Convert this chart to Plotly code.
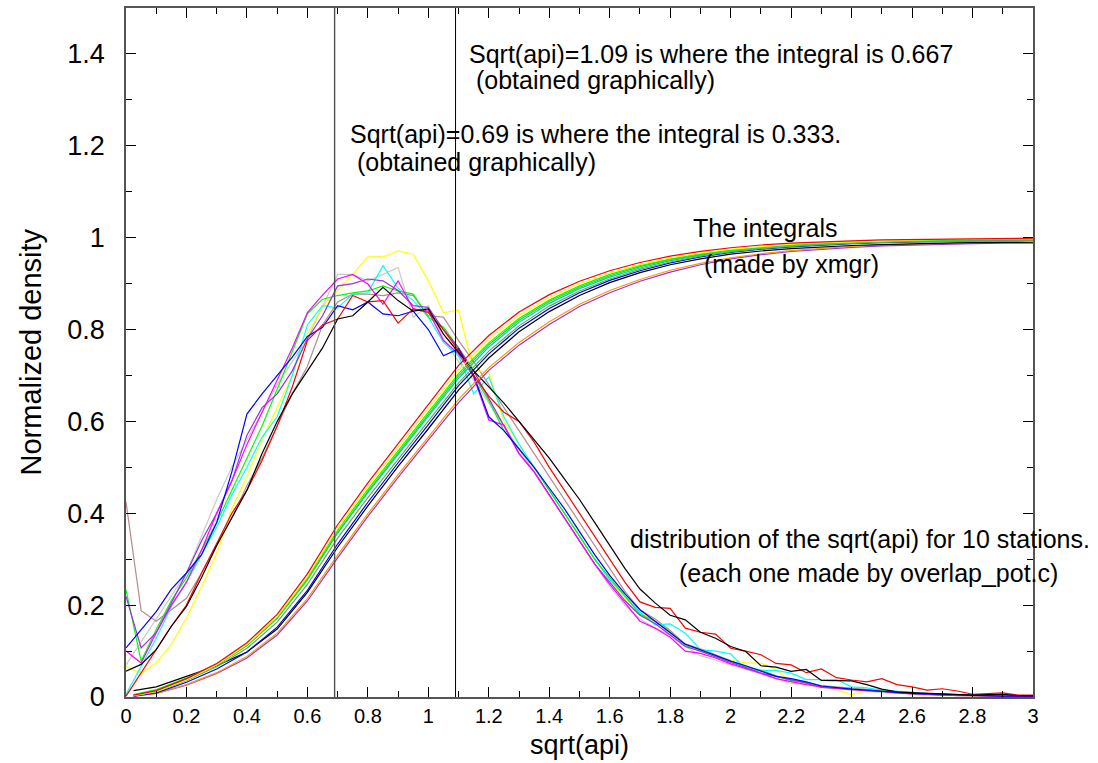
import plotly.graph_objects as go

# sqrt(api) bins shared by all density curves (0 to 3, step 0.05)
x_density = [round(0.05 * i, 2) for i in range(61)]
# abscissae of the integral curves
x_integral = [0.025] + [round(0.1 * i, 1) for i in range(1, 31)]

# normalized density of sqrt(api), one list per station
dens_black = [0.056, 0.071, 0.103, 0.154, 0.197, 0.26, 0.33, 0.39, 0.45, 0.53,
              0.60, 0.66, 0.71, 0.76, 0.823, 0.83, 0.86, 0.892, 0.863, 0.84,
              0.845, 0.79, 0.75, 0.71, 0.675, 0.64, 0.60, 0.56, 0.52, 0.475,
              0.43, 0.38, 0.33, 0.28, 0.235, 0.205, 0.178, 0.168, 0.141, 0.128,
              0.11, 0.099, 0.068, 0.065, 0.056, 0.06, 0.036, 0.036, 0.035, 0.027,
              0.017, 0.011, 0.009, 0.008, 0.007, 0.005, 0.004, 0.005, 0.006, 0.003, 0.003]
dens_red = [0.002, 0.053, 0.103, 0.154, 0.20, 0.27, 0.334, 0.40, 0.45, 0.515,
            0.59, 0.675, 0.776, 0.81, 0.823, 0.874, 0.86, 0.863, 0.814, 0.845,
            0.837, 0.80, 0.754, 0.70, 0.655, 0.62, 0.60, 0.555, 0.50, 0.45,
            0.40, 0.35, 0.30, 0.25, 0.207, 0.195, 0.193, 0.15, 0.141, 0.137,
            0.106, 0.10, 0.092, 0.073, 0.07, 0.053, 0.061, 0.042, 0.037, 0.033,
            0.04, 0.027, 0.022, 0.015, 0.018, 0.013, 0.006, 0.007, 0.009, 0.004, 0.004]
dens_green = [0.233, 0.078, 0.147, 0.21, 0.26, 0.32, 0.38, 0.45, 0.52, 0.59,
              0.67, 0.75, 0.834, 0.866, 0.874, 0.88, 0.884, 0.895, 0.884, 0.877,
              0.827, 0.805, 0.76, 0.70, 0.645, 0.58, 0.54, 0.50, 0.45, 0.40,
              0.35, 0.30, 0.26, 0.22, 0.18, 0.165, 0.142, 0.112, 0.103, 0.09,
              0.078, 0.066, 0.058, 0.046, 0.036, 0.032, 0.024, 0.02, 0.017, 0.016,
              0.013, 0.01, 0.008, 0.006, 0.004, 0.004, 0.003, 0.002, 0.002, 0.002, 0.001]
dens_blue = [0.107, 0.147, 0.186, 0.235, 0.27, 0.31, 0.38, 0.49, 0.616, 0.66,
             0.70, 0.74, 0.785, 0.805, 0.852, 0.843, 0.86, 0.834, 0.83, 0.84,
             0.80, 0.743, 0.758, 0.70, 0.61, 0.58, 0.54, 0.50, 0.455, 0.41,
             0.36, 0.31, 0.265, 0.225, 0.19, 0.165, 0.142, 0.115, 0.103, 0.09,
             0.078, 0.068, 0.056, 0.045, 0.04, 0.033, 0.024, 0.02, 0.017, 0.015,
             0.012, 0.01, 0.008, 0.007, 0.005, 0.004, 0.003, 0.003, 0.002, 0.002, 0.002]
dens_yellow = [0.067, 0.051, 0.074, 0.114, 0.172, 0.24, 0.313, 0.41, 0.48, 0.56,
               0.63, 0.70, 0.79, 0.85, 0.885, 0.92, 0.958, 0.958, 0.971, 0.964,
               0.906, 0.837, 0.842, 0.711, 0.707, 0.60, 0.55, 0.50, 0.45, 0.40,
               0.35, 0.30, 0.255, 0.215, 0.185, 0.165, 0.14, 0.115, 0.10, 0.09,
               0.08, 0.074, 0.074, 0.06, 0.032, 0.028, 0.022, 0.016, 0.005, 0.014,
               0.012, 0.009, 0.008, 0.005, 0.004, 0.003, 0.002, 0.002, 0.002, 0.001, 0.001]
dens_brown = [0.425, 0.188, 0.165, 0.19, 0.215, 0.27, 0.33, 0.39, 0.46, 0.52,
              0.59, 0.66, 0.72, 0.81, 0.86, 0.877, 0.877, 0.874, 0.88, 0.874,
              0.83, 0.827, 0.776, 0.73, 0.68, 0.63, 0.58, 0.53, 0.48, 0.43,
              0.38, 0.33, 0.28, 0.23, 0.19, 0.17, 0.145, 0.115, 0.105, 0.092,
              0.08, 0.066, 0.056, 0.046, 0.036, 0.032, 0.025, 0.022, 0.019, 0.016,
              0.013, 0.011, 0.009, 0.007, 0.005, 0.004, 0.003, 0.003, 0.002, 0.002, 0.001]
dens_grey = [0.07, 0.12, 0.17, 0.22, 0.27, 0.35, 0.43, 0.50, 0.56, 0.62,
             0.68, 0.73, 0.78, 0.85, 0.92, 0.92, 0.906, 0.92, 0.935, 0.827,
             0.852, 0.78, 0.73, 0.69, 0.64, 0.59, 0.54, 0.49, 0.44, 0.39,
             0.34, 0.29, 0.24, 0.20, 0.17, 0.15, 0.135, 0.11, 0.09, 0.08,
             0.07, 0.06, 0.05, 0.04, 0.03, 0.027, 0.022, 0.018, 0.015, 0.012,
             0.01, 0.008, 0.006, 0.005, 0.004, 0.003, 0.003, 0.002, 0.002, 0.001, 0.001]
dens_violet = [0.219, 0.107, 0.14, 0.204, 0.27, 0.34, 0.40, 0.47, 0.57, 0.63,
               0.66, 0.71, 0.78, 0.83, 0.895, 0.90, 0.91, 0.906, 0.885, 0.852,
               0.848, 0.80, 0.76, 0.71, 0.65, 0.59, 0.53, 0.49, 0.44, 0.39,
               0.34, 0.29, 0.25, 0.21, 0.178, 0.16, 0.135, 0.11, 0.10, 0.087,
               0.075, 0.064, 0.052, 0.045, 0.038, 0.03, 0.021, 0.019, 0.017, 0.014,
               0.012, 0.009, 0.007, 0.006, 0.004, 0.004, 0.003, 0.002, 0.002, 0.002, 0.001]
dens_cyan = [0.006, 0.067, 0.128, 0.197, 0.25, 0.31, 0.37, 0.44, 0.50, 0.566,
             0.61, 0.70, 0.81, 0.852, 0.847, 0.877, 0.88, 0.939, 0.89, 0.863,
             0.827, 0.772, 0.743, 0.66, 0.697, 0.61, 0.55, 0.50, 0.45, 0.40,
             0.35, 0.30, 0.255, 0.22, 0.185, 0.157, 0.159, 0.139, 0.103, 0.10,
             0.094, 0.06, 0.058, 0.058, 0.052, 0.038, 0.038, 0.038, 0.022, 0.02,
             0.015, 0.012, 0.01, 0.008, 0.006, 0.005, 0.005, 0.004, 0.003, 0.003, 0.003]
dens_magenta = [0.10, 0.074, 0.14, 0.20, 0.25, 0.32, 0.40, 0.47, 0.55, 0.62,
                0.69, 0.76, 0.837, 0.875, 0.91, 0.92, 0.899, 0.855, 0.906, 0.845,
                0.84, 0.776, 0.747, 0.697, 0.603, 0.592, 0.53, 0.49, 0.44, 0.39,
                0.34, 0.29, 0.245, 0.205, 0.165, 0.15, 0.13, 0.10, 0.095, 0.085,
                0.072, 0.062, 0.052, 0.04, 0.033, 0.027, 0.022, 0.019, 0.016, 0.014,
                0.012, 0.009, 0.007, 0.006, 0.004, 0.003, 0.003, 0.002, 0.002, 0.001, 0.001]

# running integrals of the densities
int_red = [0.004, 0.014, 0.040, 0.073, 0.118, 0.180, 0.268, 0.375, 0.466, 0.552, 0.636,
           0.722, 0.787, 0.838, 0.876, 0.905, 0.928, 0.946, 0.960, 0.970, 0.978,
           0.984, 0.988, 0.991, 0.993, 0.995, 0.996, 0.997, 0.998, 0.999, 0.999]
int_yellow = [0.003, 0.012, 0.037, 0.070, 0.114, 0.175, 0.262, 0.368, 0.458, 0.543, 0.627,
              0.712, 0.778, 0.830, 0.869, 0.899, 0.923, 0.942, 0.956, 0.967, 0.975,
              0.981, 0.986, 0.989, 0.991, 0.993, 0.995, 0.996, 0.997, 0.997, 0.998]
int_green = [0.005, 0.016, 0.041, 0.072, 0.114, 0.174, 0.259, 0.363, 0.452, 0.536, 0.619,
             0.704, 0.771, 0.824, 0.864, 0.895, 0.920, 0.939, 0.954, 0.965, 0.973,
             0.980, 0.985, 0.988, 0.990, 0.992, 0.994, 0.995, 0.996, 0.996, 0.997]
int_lime = [0.004, 0.014, 0.039, 0.070, 0.112, 0.171, 0.255, 0.358, 0.447, 0.531, 0.614,
            0.699, 0.767, 0.820, 0.861, 0.892, 0.917, 0.937, 0.952, 0.963, 0.972,
            0.979, 0.984, 0.987, 0.989, 0.991, 0.993, 0.994, 0.995, 0.996, 0.996]
int_cyan = [0.003, 0.011, 0.036, 0.069, 0.112, 0.172, 0.256, 0.357, 0.445, 0.528, 0.610,
            0.694, 0.762, 0.816, 0.857, 0.889, 0.914, 0.934, 0.950, 0.962, 0.971,
            0.978, 0.983, 0.986, 0.989, 0.991, 0.993, 0.994, 0.995, 0.995, 0.996]
int_olive = [0.003, 0.012, 0.036, 0.066, 0.106, 0.163, 0.245, 0.346, 0.434, 0.518, 0.600,
             0.684, 0.753, 0.808, 0.851, 0.884, 0.910, 0.931, 0.947, 0.960, 0.969,
             0.976, 0.981, 0.985, 0.988, 0.990, 0.991, 0.992, 0.993, 0.994, 0.994]
int_blue = [0.002, 0.009, 0.032, 0.061, 0.098, 0.152, 0.232, 0.333, 0.424, 0.510, 0.593,
            0.678, 0.747, 0.803, 0.846, 0.880, 0.907, 0.928, 0.945, 0.958, 0.968,
            0.975, 0.980, 0.984, 0.987, 0.989, 0.991, 0.992, 0.993, 0.994, 0.994]
int_black = [0.014, 0.022, 0.045, 0.068, 0.098, 0.148, 0.228, 0.326, 0.416, 0.502, 0.584,
             0.668, 0.738, 0.795, 0.839, 0.874, 0.902, 0.924, 0.941, 0.954, 0.964,
             0.971, 0.976, 0.980, 0.983, 0.985, 0.987, 0.988, 0.989, 0.990, 0.990]
int_orange = [0.002, 0.008, 0.027, 0.053, 0.088, 0.139, 0.214, 0.309, 0.399, 0.484, 0.566,
              0.648, 0.717, 0.772, 0.817, 0.855, 0.885, 0.909, 0.929, 0.944, 0.956,
              0.965, 0.972, 0.977, 0.981, 0.984, 0.986, 0.988, 0.989, 0.990, 0.990]
int_violet = [0.002, 0.008, 0.026, 0.051, 0.085, 0.135, 0.209, 0.303, 0.393, 0.478, 0.560,
              0.641, 0.711, 0.766, 0.811, 0.850, 0.880, 0.905, 0.925, 0.941, 0.954,
              0.963, 0.970, 0.975, 0.979, 0.982, 0.984, 0.986, 0.987, 0.988, 0.988]

# sqrt(api) values where the integral reaches 1/3 and 2/3
x_third = 0.69
x_two_thirds = 1.09

densities = [
    (dens_grey, "#c8c8c8"), (dens_brown, "#b48c8c"), (dens_yellow, "#ffff00"),
    (dens_cyan, "#00ffff"), (dens_green, "#00ff00"), (dens_violet, "#9a30e0"),
    (dens_magenta, "#ff00ff"), (dens_blue, "#0000ff"), (dens_red, "#ff0000"),
    (dens_black, "#000000"),
]
integrals = [
    (int_violet, "#9a30e0"), (int_orange, "#ff9900"), (int_black, "#000000"),
    (int_blue, "#0000ff"), (int_olive, "#6aa84f"), (int_cyan, "#00c8c8"),
    (int_lime, "#33cc33"), (int_green, "#00ff00"), (int_yellow, "#ffff00"),
    (int_red, "#ff0000"),
]

fig = go.Figure()
for ys, col in densities:
    fig.add_trace(go.Scatter(x=x_density, y=ys, mode="lines",
                             line=dict(color=col, width=1.2), showlegend=False))
for ys, col in integrals:
    fig.add_trace(go.Scatter(x=x_integral, y=ys, mode="lines",
                             line=dict(color=col, width=1.2), showlegend=False))

fig.add_vline(x=x_third, line=dict(color="#505050", width=1.4))
fig.add_vline(x=x_two_thirds, line=dict(color="#000000", width=1))

FONT = "Liberation Sans, Arial, Helvetica, sans-serif"
TEXT_FONT = dict(family=FONT, size=25, color="black")

# notes placed in data coordinates
data_notes = [
    ("Sqrt(api)=1.09 is where the integral is 0.667", 1.127, 1.400, "left"),
    ("\u00a0(obtained graphically)", 1.127, 1.343, "left"),
    ("Sqrt(api)=0.69 is where the integral is 0.333.", 0.733, 1.226, "left"),
    ("\u00a0(obtained graphically)", 0.733, 1.164, "left"),
    ("The integrals", 2.362, 1.022, "right"),
    ("(made by xmgr)", 2.20, 0.942, "center"),
]
for text, xv, yv, anchor in data_notes:
    fig.add_annotation(text=text, x=xv, y=yv, xref="x", yref="y", xanchor=anchor,
                       yanchor="middle", showarrow=False, font=TEXT_FONT)

# notes that run past the right edge of the axes
paper_notes = [
    ("distribution of the sqrt(api) for 10 stations.", 1.065, 0.230),
    ("(each one made by overlap_pot.c)", 1.030, 0.180),
]
for text, xv, yv in paper_notes:
    fig.add_annotation(text=text, x=xv, y=yv, xref="paper", yref="paper",
                       xanchor="right", yanchor="middle", showarrow=False,
                       font=TEXT_FONT)

# axis titles
fig.add_annotation(text="sqrt(api)", xref="paper", yref="paper", x=0.5, y=0,
                   yshift=-48, xanchor="center", yanchor="middle", showarrow=False,
                   font=dict(family=FONT, size=27, color="black"))
fig.add_annotation(text="Normalized density", xref="paper", yref="paper", x=0, y=0.5,
                   xshift=-96, xanchor="center", yanchor="middle", textangle=-90,
                   showarrow=False, font=dict(family=FONT, size=29, color="black"))

axis_common = dict(showgrid=False, zeroline=False, showline=True, linecolor="#555555",
                   linewidth=1.6, mirror="allticks", ticks="inside", ticklen=10,
                   tickwidth=1, tickcolor="black")
fig.update_xaxes(range=[0, 3], dtick=0.2, tick0=0,
                 minor=dict(dtick=0.1, ticks="inside", ticklen=6, tickcolor="black"),
                 tickfont=dict(family=FONT, size=20, color="black"), **axis_common)
fig.update_yaxes(range=[0, 1.5], dtick=0.2, tick0=0, ticklabelstandoff=14,
                 minor=dict(dtick=0.1, ticks="inside", ticklen=6, tickcolor="black"),
                 tickfont=dict(family=FONT, size=27, color="black"), **axis_common)

fig.update_layout(width=1098, height=763, autosize=False,
                  margin=dict(l=126, r=65, t=6, b=66),
                  paper_bgcolor="white", plot_bgcolor="white")

fig.write_html("out.html")
